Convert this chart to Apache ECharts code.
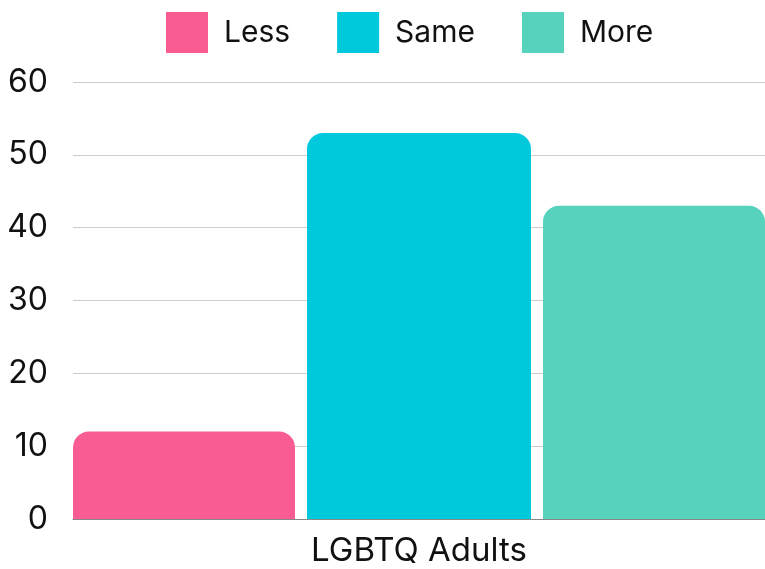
<!DOCTYPE html>
<html>
<head>
<meta charset="utf-8">
<script src="https://cdn.jsdelivr.net/npm/echarts@6/dist/echarts.min.js"></script>
<style>
  html, body { margin: 0; padding: 0; background: #fff; }
  #chart { width: 765px; height: 569px; }
</style>
</head>
<body>
<div id="chart"></div>
<script>
// data
const categories = ["LGBTQ Adults"];
const seriesNames = ["Less", "Same", "More"];
const lessValues = [12];
const sameValues = [53];
const moreValues = [43];
const yTicks = { min: 0, max: 60, interval: 10 };

const colors = ["#F95C93", "#00C9DB", "#57D2BC"];
const fontFamily = "Inter, 'Open Sans', sans-serif";

const chart = echarts.init(document.getElementById("chart"));

const makeBar = (name, data, color) => ({
  name: name,
  type: "bar",
  data: data,
  barWidth: 224,
  barGap: "5.36%",
  itemStyle: {
    color: color,
    borderRadius: [16, 16, 0, 0],
  },
});

chart.setOption({
  animation: false,
  color: colors,
  legend: {
    top: 7,
    left: 161,
    itemWidth: 42,
    itemHeight: 41,
    itemGap: 47,
    icon: "rect",
    textStyle: {
      fontFamily: fontFamily,
      fontSize: 30,
      color: "#111",
      padding: [0, 0, 0, 11],
    },
  },
  grid: {
    left: 73,
    right: -8,
    top: 82,
    bottom: 50,
    containLabel: false,
  },
  xAxis: {
    type: "category",
    data: categories,
    axisTick: { show: false },
    axisLine: { lineStyle: { color: "#888", width: 1 } },
    axisLabel: {
      fontFamily: fontFamily,
      fontSize: 33,
      color: "#111",
      margin: 16,
    },
  },
  yAxis: {
    type: "value",
    min: yTicks.min,
    max: yTicks.max,
    interval: yTicks.interval,
    axisLine: { show: false },
    axisTick: { show: false },
    splitLine: { lineStyle: { color: "#cccccc", width: 1 } },
    axisLabel: {
      fontFamily: fontFamily,
      fontSize: 32,
      color: "#111",
      margin: 25,
    },
  },
  series: [
    makeBar(seriesNames[0], lessValues, colors[0]),
    makeBar(seriesNames[1], sameValues, colors[1]),
    makeBar(seriesNames[2], moreValues, colors[2]),
  ],
});
</script>
</body>
</html>
